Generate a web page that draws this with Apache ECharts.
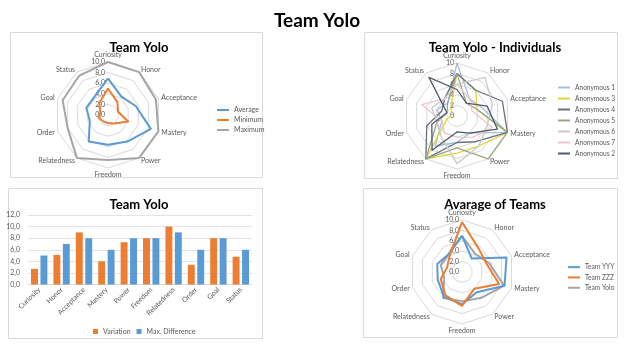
<!DOCTYPE html>
<html>
<head>
<meta charset="utf-8">
<script src="https://cdn.jsdelivr.net/npm/echarts@6/dist/echarts.min.js"></script>
<style>
html,body{margin:0;padding:0;background:#fff;}
#c{width:642px;height:361px;}
</style>
</head>
<body>
<div id="c"></div>
<script>
// ---- data ----
const dims = ['Curiosity','Honor','Acceptance','Mastery','Power','Freedom','Relatedness','Order','Goal','Status'];
const radarTicks = [0, 2, 4, 6, 8, 10];
const yTicks = [0, 2, 4, 6, 8, 10, 12];

const teamAverage = [6.9, 4.3, 5.5, 8.5, 6.2, 5.6, 6.2, 3.6, 4.3, 4.3];
const teamMinimum = [5, 3, 2, 4, 2, 1.5, 1.5, 1.8, 1.5, 2.8];
const teamMaximum = [10, 10, 9.5, 10, 10, 8.5, 10, 8, 9, 9.2];

const anonymous1 = [10, 4, 5, 10, 4, 5, 7, 3, 4, 3];
const anonymous3 = [8, 6, 4, 10, 7, 7, 10, 2, 1, 2];
const anonymous4 = [8, 6, 9, 10, 6, 5, 10, 6, 3, 4];
const anonymous5 = [8, 3, 4, 10, 10, 6, 10, 4, 2, 3];
const anonymous6 = [6, 9, 7, 6, 7, 9, 5, 4, 5, 4];
const anonymous7 = [6, 4, 3, 7, 5, 4, 4, 3, 7, 4];
const anonymous2 = [5, 3, 6, 8, 4, 3, 8, 5, 2, 9];

const variation     = [2.7, 5.1, 9.0, 4.0, 7.3, 8.0, 10.0, 3.4, 8.0, 4.8];
const maxDifference = [5.0, 7.0, 8.0, 6.0, 8.0, 8.0, 9.0, 6.0, 8.0, 6.0];

const teamYYY  = [7.0, 3.2, 9.0, 8.6, 4.8, 6.2, 5.9, 4.9, 5.0, 4.3];
const teamZZZ  = [9.6, 5.5, 5.0, 7.5, 4.0, 6.5, 5.5, 4.3, 3.0, 4.0];
const teamYolo = [6.9, 4.3, 5.5, 8.5, 6.2, 5.6, 6.2, 3.6, 4.3, 4.3];

// ---- chart ----
const FONT = 'Lato';
const TXT = '#595959';
const comma1 = v => Number(v).toFixed(1).replace('.', ',');

// ECharts radar runs counter-clockwise; reorder so the axes run clockwise like the original
const cw = dims.map((d, i) => (i === 0 ? 0 : dims.length - i));
const cwVals = arr => cw.map(i => arr[i]);

function radarDef(center, radius, fmt) {
  return {
    center: center, radius: radius, startAngle: 90, shape: 'polygon',
    splitNumber: radarTicks.length - 1,
    nameGap: 3,
    axisName: { color: TXT, fontSize: 7, fontFamily: FONT },
    splitLine: { lineStyle: { color: '#d9d9d9', width: 1 } },
    splitArea: { show: false },
    axisLine: { show: false },
    axisTick: { show: false },
    axisLabel: { show: false, fontSize: 7, color: TXT, fontFamily: FONT, margin: 3, formatter: fmt },
    indicator: cw.map((di, k) => ({
      name: dims[di], min: radarTicks[0], max: radarTicks[radarTicks.length - 1],
      axisLabel: { show: k === 0 }
    }))
  };
}

function rline(radarIndex, name, values, color, width, z) {
  return {
    type: 'radar', radarIndex: radarIndex, name: name, symbol: 'none', z: z || 2,
    lineStyle: { color: color, width: width },
    itemStyle: { color: color },
    data: [{ name: name, value: cwVals(values) }]
  };
}

const legendBase = {
  orient: 'vertical', icon: 'rect', itemWidth: 12, itemHeight: 2, itemGap: 0,
  selectedMode: false,
  textStyle: { color: TXT, fontSize: 6.6, fontFamily: FONT }
};

const anonColors = {
  'Anonymous 1': '#a7bde0',
  'Anonymous 3': '#e2d43a',
  'Anonymous 4': '#66707c',
  'Anonymous 5': '#98a684',
  'Anonymous 6': '#c9c9c9',
  'Anonymous 7': '#ecc5cf',
  'Anonymous 2': '#4e5a6b'
};

const chart = echarts.init(document.getElementById('c'), null, { renderer: 'canvas' });
chart.setOption({
  animation: false,
  backgroundColor: '#ffffff',
  textStyle: { fontFamily: FONT },
  graphic: [
    { type: 'rect', shape: { x: 10.5, y: 32.5, width: 252, height: 145 }, style: { fill: '#fff', stroke: '#d9d9d9', lineWidth: 1 }, z: -10 },
    { type: 'rect', shape: { x: 364.5, y: 32.5, width: 253, height: 146 }, style: { fill: '#fff', stroke: '#d9d9d9', lineWidth: 1 }, z: -10 },
    { type: 'rect', shape: { x: 8.5, y: 188.5, width: 254, height: 150 }, style: { fill: '#fff', stroke: '#d9d9d9', lineWidth: 1 }, z: -10 },
    { type: 'rect', shape: { x: 363.5, y: 188.5, width: 254, height: 149 }, style: { fill: '#fff', stroke: '#d9d9d9', lineWidth: 1 }, z: -10 }
  ],
  title: [
    { text: 'Team Yolo', left: 312, top: 6, textAlign: 'center', textStyle: { fontSize: 19, fontWeight: 'bold', color: '#000', fontFamily: FONT } },
    { text: 'Team Yolo', left: 134, top: 36, textAlign: 'center', textStyle: { fontSize: 13, fontWeight: 'bold', color: '#000', fontFamily: FONT } },
    { text: 'Team Yolo - Individuals', left: 490, top: 36, textAlign: 'center', textStyle: { fontSize: 13, fontWeight: 'bold', color: '#000', fontFamily: FONT } },
    { text: 'Team Yolo', left: 134, top: 193, textAlign: 'center', textStyle: { fontSize: 13, fontWeight: 'bold', color: '#000', fontFamily: FONT } },
    { text: 'Avarage of Teams', left: 490, top: 193, textAlign: 'center', textStyle: { fontSize: 13, fontWeight: 'bold', color: '#000', fontFamily: FONT } }
  ],
  radar: [
    radarDef([108, 115], 53, comma1),
    radarDef([457, 116], 53, v => String(v)),
    radarDef([462, 272], 52, comma1)
  ],
  legend: [
    Object.assign({}, legendBase, { left: 212, top: 100, data: ['Average', 'Minimum', 'Maximum'], textStyle: Object.assign({}, legendBase.textStyle, { fontSize: 7, lineHeight: 10 }) }),
    Object.assign({}, legendBase, { left: 553, top: 77, data: ['Anonymous 1', 'Anonymous 3', 'Anonymous 4', 'Anonymous 5', 'Anonymous 6', 'Anonymous 7', 'Anonymous 2'], textStyle: Object.assign({}, legendBase.textStyle, { lineHeight: 11 }) }),
    Object.assign({}, legendBase, { left: 563, top: 257, data: ['Team YYY', 'Team ZZZ', 'Team Yolo'], textStyle: Object.assign({}, legendBase.textStyle, { lineHeight: 10.3 }) }),
    { orient: 'horizontal', left: 88, top: 323, icon: 'rect', itemWidth: 5, itemHeight: 5, itemGap: 6, selectedMode: false,
      textStyle: { color: TXT, fontSize: 7, fontFamily: FONT },
      data: ['Variation', 'Max. Difference'] }
  ],
  grid: { left: 28, top: 215, width: 224, height: 69.5, containLabel: false },
  xAxis: {
    type: 'category', data: dims,
    axisLine: { lineStyle: { color: '#d9d9d9' } },
    axisTick: { show: false },
    axisLabel: { rotate: 45, fontSize: 7, color: TXT, fontFamily: FONT, margin: 4, interval: 0 }
  },
  yAxis: {
    type: 'value', min: yTicks[0], max: yTicks[yTicks.length - 1], interval: yTicks[1] - yTicks[0],
    axisLine: { show: false }, axisTick: { show: false },
    splitLine: { lineStyle: { color: '#e4e4e4' } },
    axisLabel: { fontSize: 7, color: TXT, fontFamily: FONT, margin: 8, formatter: comma1 }
  },
  series: [
    rline(0, 'Average', teamAverage, '#5b9bd5', 2, 3),
    rline(0, 'Minimum', teamMinimum, '#ed7d31', 2, 3),
    rline(0, 'Maximum', teamMaximum, '#a5a5a5', 2, 2),

    rline(1, 'Anonymous 1', anonymous1, anonColors['Anonymous 1'], 1.3),
    rline(1, 'Anonymous 3', anonymous3, anonColors['Anonymous 3'], 1.3),
    rline(1, 'Anonymous 4', anonymous4, anonColors['Anonymous 4'], 1.3),
    rline(1, 'Anonymous 5', anonymous5, anonColors['Anonymous 5'], 1.3),
    rline(1, 'Anonymous 6', anonymous6, anonColors['Anonymous 6'], 1.3),
    rline(1, 'Anonymous 7', anonymous7, anonColors['Anonymous 7'], 1.3),
    rline(1, 'Anonymous 2', anonymous2, anonColors['Anonymous 2'], 1.3),

    rline(2, 'Team YYY', teamYYY, '#5b9bd5', 2, 3),
    rline(2, 'Team ZZZ', teamZZZ, '#ed7d31', 2, 3),
    rline(2, 'Team Yolo', teamYolo, '#a5a5a5', 2, 2),

    { type: 'bar', name: 'Variation', data: variation, itemStyle: { color: '#ed7d31' }, barGap: '36%', barCategoryGap: '27%' },
    { type: 'bar', name: 'Max. Difference', data: maxDifference, itemStyle: { color: '#5b9bd5' }, barGap: '36%', barCategoryGap: '27%' }
  ]
});
</script>
</body>
</html>
